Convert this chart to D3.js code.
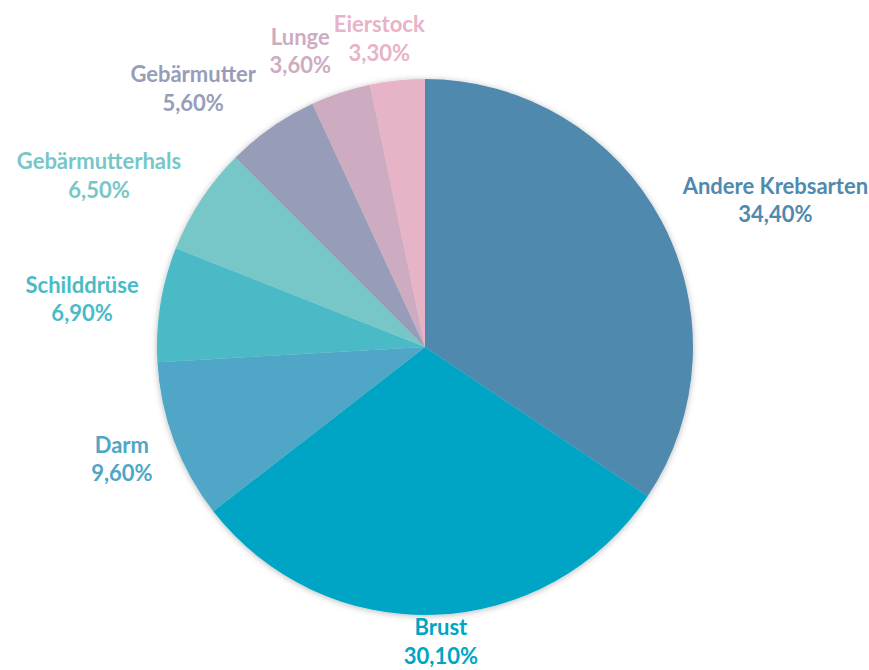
<!DOCTYPE html>
<html>
<head>
<meta charset="utf-8">
<script src="https://cdn.jsdelivr.net/npm/d3@7/dist/d3.min.js"></script>
<style>
  html, body { margin: 0; padding: 0; background: #ffffff; }
  svg { display: block; }
  text { font-family: Lato, "Open Sans", sans-serif; font-weight: 700; }
</style>
</head>
<body>
<svg id="chart" width="869" height="670"></svg>
<script>
// Krebsarten (Anteil in %), im Uhrzeigersinn ab 12 Uhr
const categories = ["Andere Krebsarten", "Brust", "Darm", "Schilddrüse", "Gebärmutterhals", "Gebärmutter", "Lunge", "Eierstock"];
const values = [34.4, 30.1, 9.6, 6.9, 6.5, 5.6, 3.6, 3.3];
const valueLabels = ["34,40%", "30,10%", "9,60%", "6,90%", "6,50%", "5,60%", "3,60%", "3,30%"];
const sliceColors = ["#4F8AAE", "#00A5C6", "#4FA6C6", "#4BBAC7", "#77C6C8", "#979DB8", "#CDACC1", "#E7B3C7"];

// Manuelle Feinjustierung der Beschriftungen: [Drehung in Grad, zusätzlicher Abstand in px]
const labelNudges = [[5.3, 0], [-1.1, -3], [0.2, 0], [-1.2, 0], [-5.6, 0], [-7, 8], [-4.5, 10], [-2.5, 10.5]];

const cx = 425, cy = 347, radius = 268;
const fontSize = 22, lineHeight = 28.5, capHeight = 15.8;
const gap = 7.5, padX = 12;

const svg = d3.select("#chart");

const shadow = svg.append("defs").append("filter").attr("id", "pieShadow")
  .attr("x", "-10%").attr("y", "-10%").attr("width", "120%").attr("height", "120%");
shadow.append("feDropShadow")
  .attr("dx", 0).attr("dy", 1).attr("stdDeviation", 3)
  .attr("flood-color", "#000").attr("flood-opacity", 0.28);

const data = categories.map((c, i) => ({ name: c, value: values[i], label: valueLabels[i], color: sliceColors[i], nudge: labelNudges[i] }));

const pie = d3.pie().value(d => d.value).sort(null);
const arcs = pie(data);
const arc = d3.arc().innerRadius(0).outerRadius(radius);

const g = svg.append("g").attr("transform", `translate(${cx},${cy})`);

g.append("g").attr("filter", "url(#pieShadow)")
  .selectAll("path")
  .data(arcs)
  .join("path")
  .attr("d", arc)
  .attr("fill", d => d.data.color);

// Beschriftungen außerhalb des Kreises: Textblock entlang der (leicht gedrehten)
// Winkelhalbierenden nach außen schieben, bis er den Kreis nicht mehr berührt
const labels = g.append("g").selectAll("text")
  .data(arcs)
  .join("text")
  .attr("font-size", fontSize)
  .attr("fill", d => d.data.color)
  .attr("text-anchor", "middle");

labels.append("tspan").attr("x", 0).attr("y", 0).text(d => d.data.name);
labels.append("tspan").attr("x", 0).attr("y", lineHeight).text(d => d.data.label);

labels.each(function(d) {
  const w = d3.max(d3.select(this).selectAll("tspan").nodes(), n => n.getComputedTextLength()) + 2 * padX;
  const h = capHeight + lineHeight;
  const mid = (d.startAngle + d.endAngle) / 2 + d.data.nudge[0] * Math.PI / 180;
  const clear = radius + gap + d.data.nudge[1];
  const sx = Math.sin(mid), sy = -Math.cos(mid);
  let t = radius;
  for (; t < radius + 400; t += 0.25) {
    const bx = t * sx, by = t * sy;
    const nx = Math.max(bx - w / 2, Math.min(0, bx + w / 2));
    const ny = Math.max(by - h / 2, Math.min(0, by + h / 2));
    if (Math.hypot(nx, ny) >= clear) break;
  }
  const bx = t * sx, by = t * sy;
  // erste Grundlinie: Blockmitte - halbe Blockhöhe + Versalhöhe
  d3.select(this).attr("transform", `translate(${bx},${by - h / 2 + capHeight})`);
});
</script>
</body>
</html>
